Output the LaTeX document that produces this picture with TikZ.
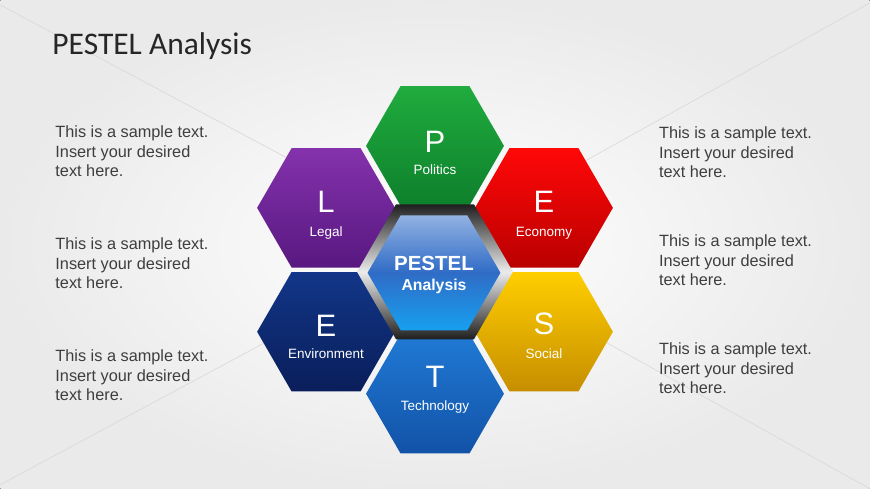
\documentclass[tikz,border=0pt]{standalone}
\usepackage{fontspec}
\setmainfont{Liberation Sans}
\newfontfamily\titlefont{Carlito}
\usepackage{xcolor}
\usepackage{tikz}
\usetikzlibrary{shapes.geometric, positioning}

\definecolor{bggray}{RGB}{234,234,234}
\definecolor{linegray}{RGB}{216,216,216}
\definecolor{textgray}{RGB}{62,62,62}
\definecolor{titlegray}{RGB}{38,38,38}
\definecolor{greenA}{RGB}{32,172,62}\definecolor{greenB}{RGB}{14,128,44}
\definecolor{redA}{RGB}{255,8,8}\definecolor{redB}{RGB}{186,0,0}
\definecolor{yellowA}{RGB}{255,206,0}\definecolor{yellowB}{RGB}{198,142,0}
\definecolor{blueA}{RGB}{32,122,212}\definecolor{blueB}{RGB}{18,82,168}
\definecolor{navyA}{RGB}{18,54,136}\definecolor{navyB}{RGB}{10,30,90}
\definecolor{purpleA}{RGB}{132,50,172}\definecolor{purpleB}{RGB}{88,24,128}
\definecolor{coreA}{RGB}{146,178,226}\definecolor{coreM}{RGB}{48,108,198}\definecolor{coreB}{RGB}{22,160,240}

\begin{document}
\begin{tikzpicture}[x=1pt, y=-1pt,
  hexa/.style={regular polygon, regular polygon sides=6, minimum size=138pt, inner sep=0pt},
  bigletter/.style={anchor=base, text=white, font=\fontsize{31}{31}\selectfont},
  hexlabel/.style={anchor=base, text=white, font=\fontsize{13.5}{16}\selectfont},
  sample/.style={anchor=north west, inner sep=0pt, align=left, text=textgray, font=\fontsize{16.3}{19.4}\selectfont}]

  % Background
  \fill[inner color=white, outer color=bggray] (0,0) rectangle (870,489);
  \draw[linegray, line width=0.6pt] (0,5) -- (300,165);
  \draw[linegray, line width=0.6pt] (870,3) -- (560,175);
  \draw[linegray, line width=0.6pt] (0,485) -- (300,324);
  \draw[linegray, line width=0.6pt] (870,489) -- (560,317);

  % Title
  \node[anchor=base west, inner sep=0pt, text=titlegray, font=\titlefont\fontsize{31.5}{32}\selectfont] (title) at (52,55) {PESTEL Analysis};

  % Outer hexagons
  \node[hexa, top color=greenA, bottom color=greenB] (pol) at (435,146) {};
  \node[hexa, top color=redA, bottom color=redB] (eco) at (544,208) {};
  \node[hexa, top color=yellowA, bottom color=yellowB] (soc) at (544,332) {};
  \node[hexa, top color=blueA, bottom color=blueB] (tec) at (435,394) {};
  \node[hexa, top color=navyA, bottom color=navyB] (env) at (326,332) {};
  \node[hexa, top color=purpleA, bottom color=purpleB] (leg) at (326,208) {};

  % Letters and labels
  \node[bigletter] (polL) at (435,153) {P};   \node[hexlabel] (polT) at (435,175) {Politics};
  \node[bigletter] (ecoL) at (544,213) {E};   \node[hexlabel] (ecoT) at (544,237) {Economy};
  \node[bigletter] (socL) at (544,335) {S};   \node[hexlabel] (socT) at (544,359) {Social};
  \node[bigletter] (tecL) at (435,388) {T};   \node[hexlabel] (tecT) at (435,411) {Technology};
  \node[bigletter] (envL) at (326,337) {E};   \node[hexlabel] (envT) at (326,359) {Environment};
  \node[bigletter] (legL) at (326,213) {L};   \node[hexlabel] (legT) at (326,237) {Legal};

  % Centre hexagon
  \node[hexa, minimum size=156pt, top color=black!88, bottom color=black!88, middle color=white!85!gray] (ring) at (435,272) {};
  \node[hexa, minimum size=133pt, top color=coreA, bottom color=coreB, middle color=coreM] (core) at (434,273) {};
  \node[anchor=base, text=white, font=\bfseries\fontsize{20.5}{22}\selectfont] (coreT) at (434,271) {PESTEL};
  \node[anchor=base, text=white, font=\bfseries\fontsize{15.8}{18}\selectfont] (coreS) at (434,291) {Analysis};

  % Sample texts
  \node[sample] (txt1) at (55,126) {This is a sample text.\\Insert your desired\\text here.};
  \node[sample] (txt2) at (55,238) {This is a sample text.\\Insert your desired\\text here.};
  \node[sample] (txt3) at (55,350) {This is a sample text.\\Insert your desired\\text here.};
  \node[sample] (txt4) at (659,127) {This is a sample text.\\Insert your desired\\text here.};
  \node[sample] (txt5) at (659,235) {This is a sample text.\\Insert your desired\\text here.};
  \node[sample] (txt6) at (659,343) {This is a sample text.\\Insert your desired\\text here.};
\end{tikzpicture}
\end{document}
